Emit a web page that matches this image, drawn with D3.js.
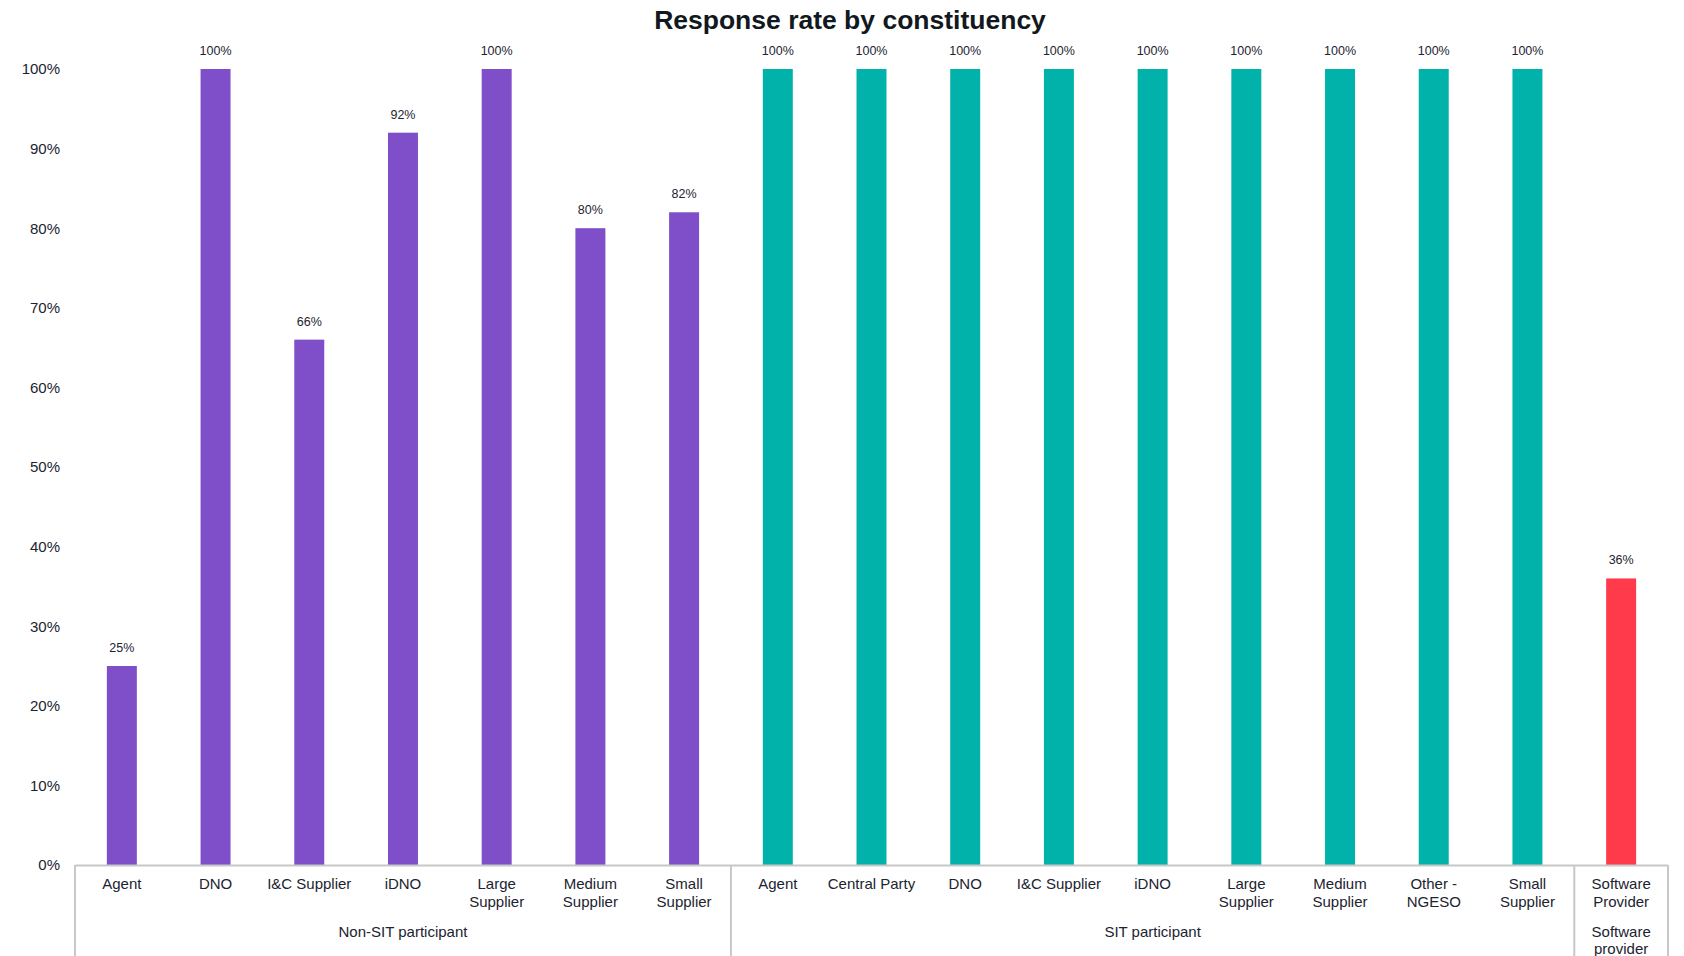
<!DOCTYPE html>
<html>
<head>
<meta charset="utf-8">
<script src="https://cdn.jsdelivr.net/npm/d3@7"></script>
<style>
  html, body { margin: 0; padding: 0; background: #fff; }
  svg { display: block; font-family: "Liberation Sans", Arial, sans-serif; }
</style>
</head>
<body>
<svg id="chart" width="1684" height="956"></svg>
<script>
// Constituency groups, their categories and response rates (%)
const groups = ["Non-SIT participant", "SIT participant", "Software provider"];
const nonSitCategories = ["Agent", "DNO", "I&C Supplier", "iDNO", "Large Supplier", "Medium Supplier", "Small Supplier"];
const nonSitValues = [25, 100, 66, 92, 100, 80, 82];
const sitCategories = ["Agent", "Central Party", "DNO", "I&C Supplier", "iDNO", "Large Supplier", "Medium Supplier", "Other - NGESO", "Small Supplier"];
const sitValues = [100, 100, 100, 100, 100, 100, 100, 100, 100];
const softwareCategories = ["Software Provider"];
const softwareValues = [36];
const yTicks = [0, 10, 20, 30, 40, 50, 60, 70, 80, 90, 100];
const groupColors = ["#7F4FC9", "#00B2A9", "#FF3B4B"];

// Line breaks used for the category labels
const labelLines = {
  "Large Supplier": ["Large", "Supplier"],
  "Medium Supplier": ["Medium", "Supplier"],
  "Small Supplier": ["Small", "Supplier"],
  "Other - NGESO": ["Other -", "NGESO"],
  "Software Provider": ["Software", "Provider"],
  "Software provider": ["Software", "provider"]
};

const groupCats = [nonSitCategories, sitCategories, softwareCategories];
const groupVals = [nonSitValues, sitValues, softwareValues];
const rows = [];
groupCats.forEach((cats, gi) => {
  cats.forEach((c, i) => rows.push({ key: gi + "|" + c, group: gi, cat: c, value: groupVals[gi][i] }));
});

const svg = d3.select("#chart");
const plotLeft = 75, plotRight = 1668, plotTop = 69, plotBottom = 865;
const textColor = "#1B2430";
const lineColor = "#C8C8C8";

const x = d3.scaleBand().domain(rows.map(r => r.key)).range([plotLeft, plotRight]).paddingInner(0.68).paddingOuter(0.34);
const y = d3.scaleLinear().domain([0, 100]).range([plotBottom, plotTop]);

// Title
svg.append("text")
  .attr("x", 850).attr("y", 29)
  .attr("text-anchor", "middle")
  .attr("font-size", 26.5).attr("font-weight", "bold")
  .attr("fill", "#111820")
  .text("Response rate by constituency");

// Y axis (labels only)
const yAxis = d3.axisLeft(y).tickValues(yTicks).tickFormat(d => d + "%").tickSize(0).tickPadding(0);
const yg = svg.append("g").attr("transform", `translate(${plotLeft - 15},0)`).call(yAxis);
yg.select(".domain").remove();
yg.selectAll("text").attr("font-size", 15).attr("fill", textColor).attr("font-family", "Liberation Sans, Arial, sans-serif");

// Bars
svg.append("g").selectAll("rect").data(rows).join("rect")
  .attr("x", d => x(d.key))
  .attr("width", x.bandwidth())
  .attr("y", d => y(d.value))
  .attr("height", d => y(0) - y(d.value))
  .attr("fill", d => groupColors[d.group]);

// Value labels
svg.append("g").selectAll("text").data(rows).join("text")
  .attr("x", d => x(d.key) + x.bandwidth() / 2)
  .attr("y", d => y(d.value) - 14)
  .attr("text-anchor", "middle")
  .attr("font-size", 12.5).attr("fill", textColor)
  .text(d => d.value + "%");

// Category axis baseline
svg.append("line").attr("x1", plotLeft).attr("x2", plotRight).attr("y1", plotBottom + 0.5).attr("y2", plotBottom + 0.5)
  .attr("stroke", lineColor).attr("stroke-width", 2);

// Group separators
let count = 0;
const bounds = [plotLeft];
groupCats.forEach(cats => { count += cats.length; bounds.push(plotLeft + count * (plotRight - plotLeft) / rows.length); });
svg.append("g").selectAll("line").data(bounds).join("line")
  .attr("x1", d => d).attr("x2", d => d)
  .attr("y1", plotBottom).attr("y2", 956)
  .attr("stroke", lineColor).attr("stroke-width", 2);

// Category labels
const catG = svg.append("g");
rows.forEach(r => {
  const lines = labelLines[r.cat] || [r.cat];
  const cx = x(r.key) + x.bandwidth() / 2;
  const t = catG.append("text")
    .attr("x", cx).attr("y", 889)
    .attr("text-anchor", "middle")
    .attr("font-size", 15).attr("fill", textColor);
  lines.forEach((l, i) => t.append("tspan").attr("x", cx).attr("dy", i === 0 ? 0 : 18).text(l));
});

// Group labels
groups.forEach((g, gi) => {
  const cx = (bounds[gi] + bounds[gi + 1]) / 2;
  const lines = labelLines[g] || [g];
  const t = svg.append("text")
    .attr("x", cx).attr("y", 937)
    .attr("text-anchor", "middle")
    .attr("font-size", 15).attr("fill", textColor);
  lines.forEach((l, i) => t.append("tspan").attr("x", cx).attr("dy", i === 0 ? 0 : 17).text(l));
});
</script>
</body>
</html>
